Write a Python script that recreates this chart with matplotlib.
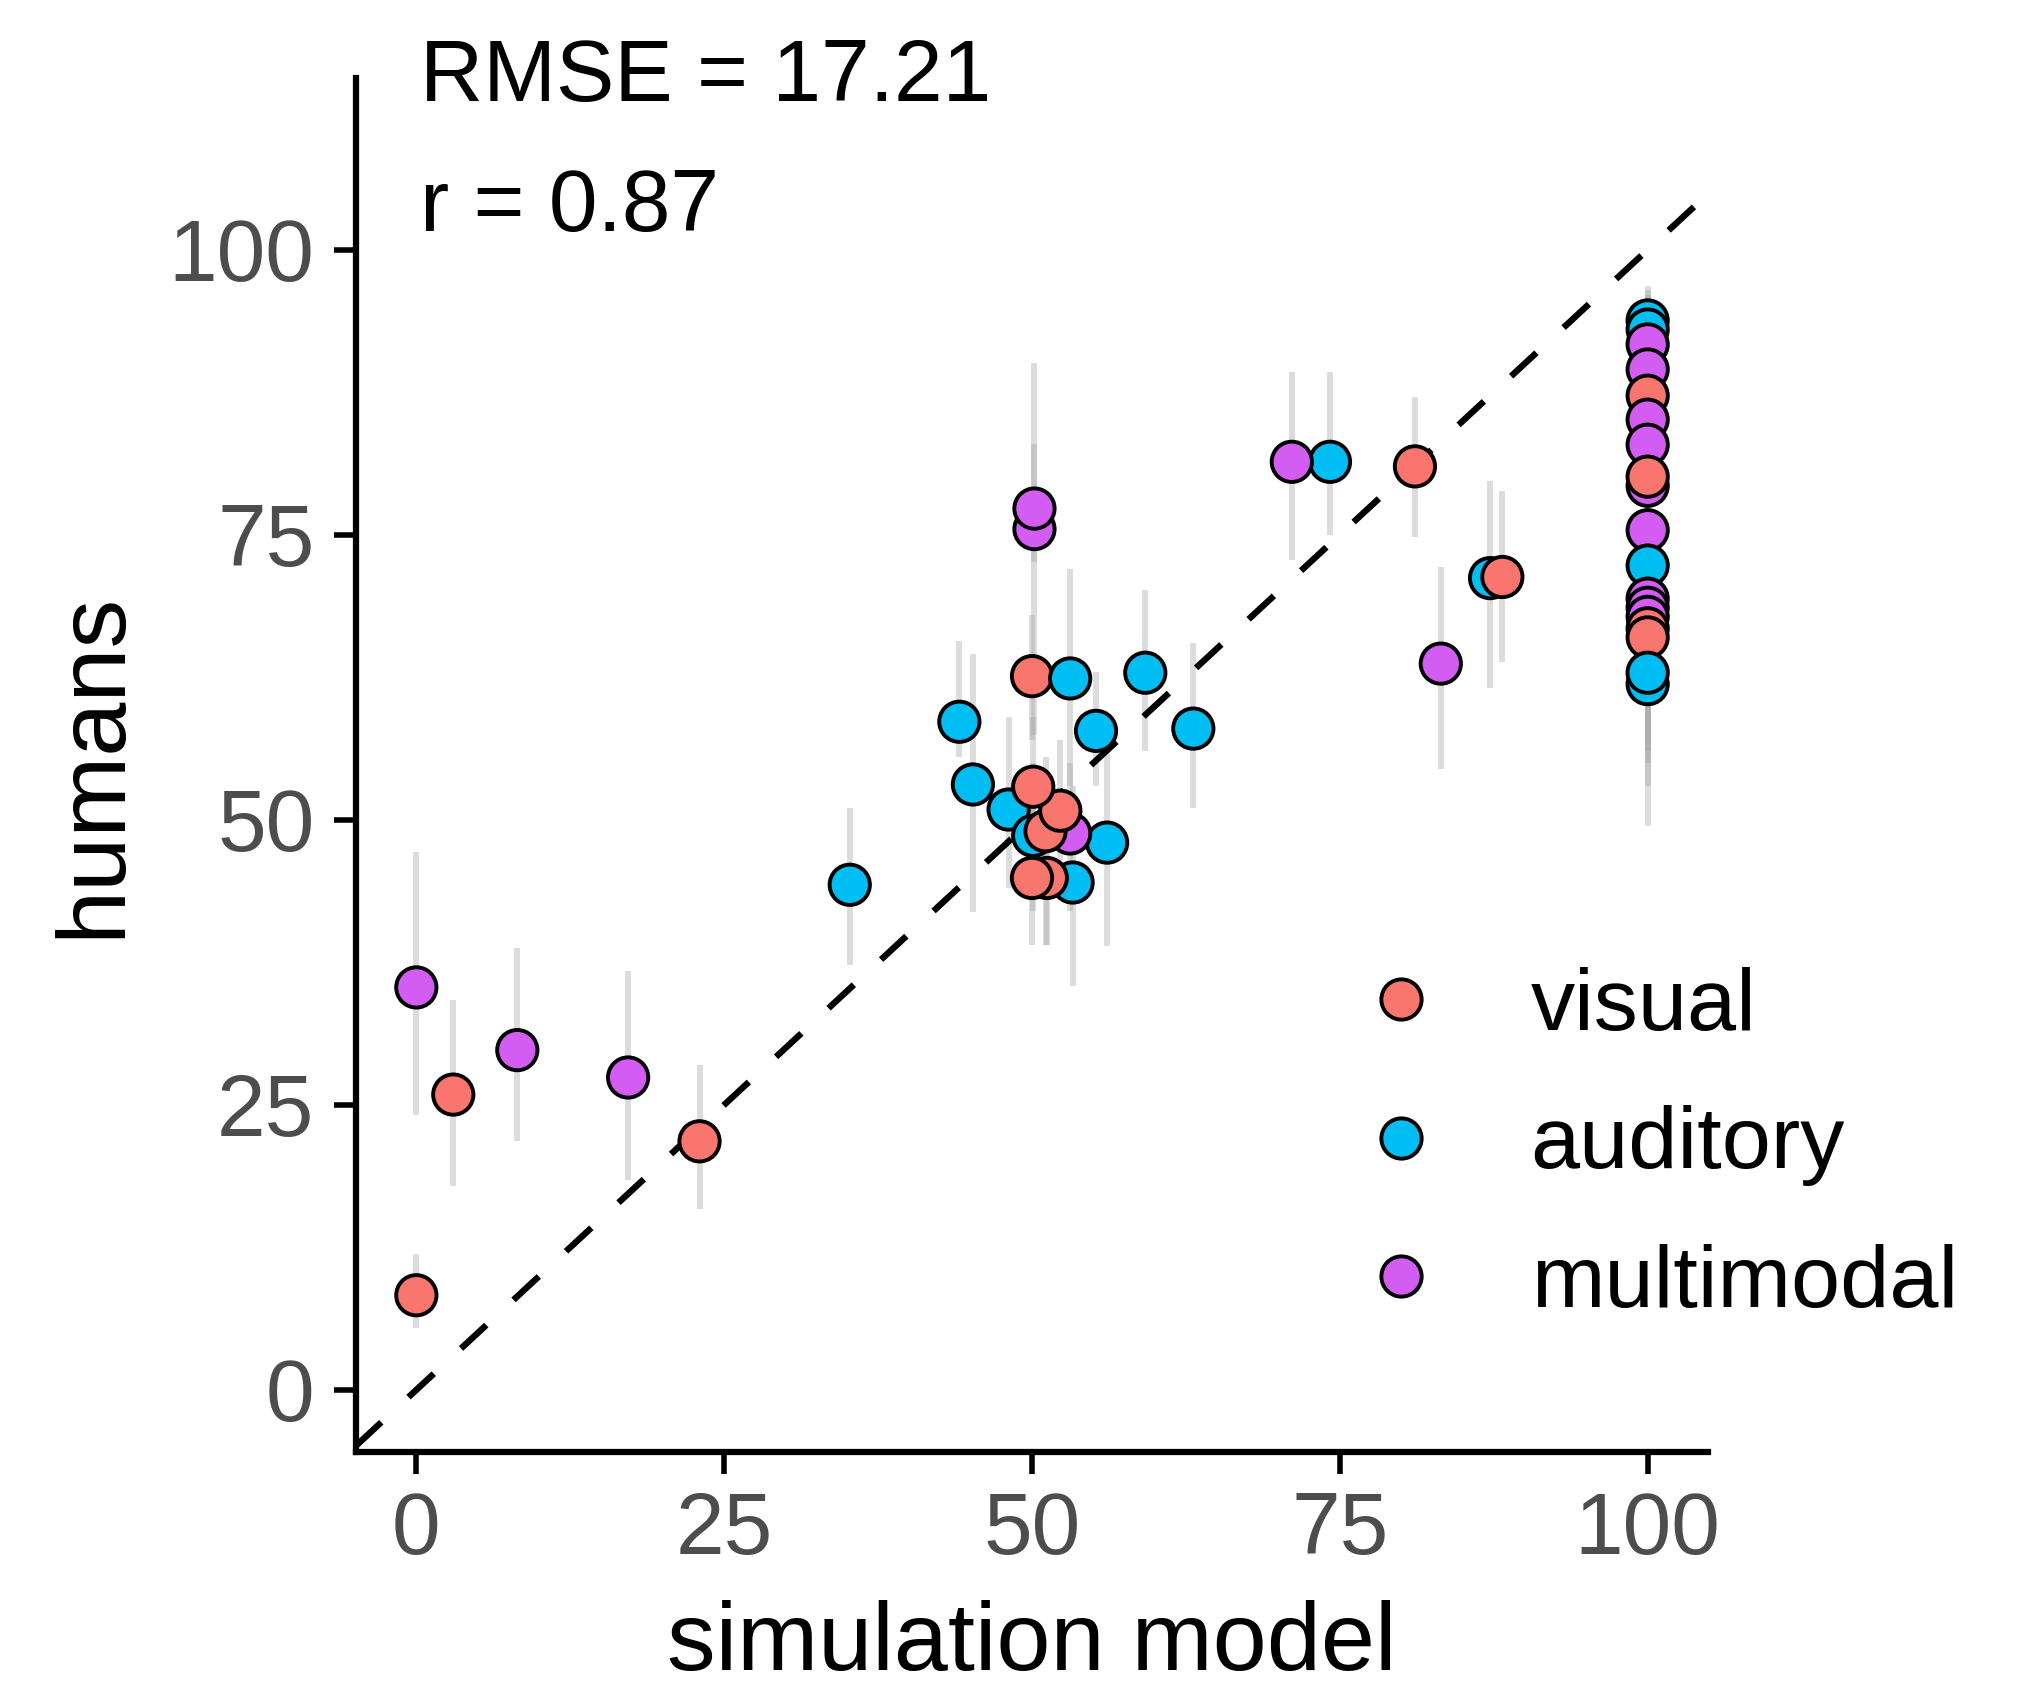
import matplotlib
import matplotlib.pyplot as plt
from matplotlib.lines import Line2D

matplotlib.use("Agg")
plt.rcParams["font.family"] = ["Liberation Sans", "DejaVu Sans"]

# condition colours
COLORS = {"visual": "#F8766D", "auditory": "#00BDF2", "multimodal": "#D35CF2"}
modality_names = ["visual", "auditory", "multimodal"]

# one entry per stimulus: modality, model prediction, human mean, CI low, CI high
modality = [
    "visual", "visual", "visual", "multimodal", "multimodal", "multimodal",
    "auditory", "auditory", "auditory", "auditory", "multimodal", "multimodal",
    "visual", "auditory", "auditory", "auditory", "auditory", "auditory",
    "visual", "visual", "auditory", "auditory", "multimodal", "visual",
    "auditory", "auditory", "visual", "visual",
    "multimodal", "auditory", "visual", "multimodal", "visual",
    "auditory", "auditory", "multimodal", "multimodal",
]
sim_model = [
    0, 3, 23, 0, 8.2, 17.2,
    35.2, 44.1, 45.2, 48.1, 50.2, 50.2,
    50.0, 53.1, 55.2, 59.2, 63.1, 53.3,
    51.2, 50.0, 50.1, 56.1, 53.1, 51.1,
    74.2, 87.2, 52.3, 50.1,
    71.1, 100, 88.2, 83.2, 81.1,
    100, 100, 100, 100,
]
humans = [
    8.3, 25.9, 21.8, 35.3, 29.8, 27.4,
    44.3, 58.6, 53.1, 50.9, 75.5, 77.3,
    62.6, 62.4, 57.8, 62.9, 58.0, 44.5,
    44.9, 44.9, 48.6, 48.0, 48.8, 49.0,
    81.4, 71.2, 50.8, 52.9,
    81.4, 93.8, 71.3, 63.7, 81.0,
    93.0, 61.9, 91.7, 89.5,
]
ci_low = [
    5.4, 17.9, 15.9, 24.1, 21.8, 18.4,
    37.3, 55.5, 41.9, 44.0, 57.4, 72.6,
    57.0, 53.0, 53.0, 56.0, 51.0, 35.4,
    39.0, 39.0, 42.0, 38.9, 42.0, 39.0,
    75.0, 61.6, 45.0, 46.0,
    72.8, 90.0, 63.8, 54.5, 74.8,
    89.0, 49.5, 87.0, 85.0,
]
ci_high = [
    11.9, 34.2, 28.5, 47.2, 38.8, 36.7,
    51.0, 65.7, 64.5, 59.0, 83.0, 90.1,
    68.0, 72.0, 63.0, 70.2, 65.5, 53.0,
    52.0, 52.0, 55.0, 56.3, 55.0, 55.5,
    89.3, 79.7, 57.0, 59.0,
    89.3, 96.8, 78.8, 72.2, 87.1,
    96.5, 68.0, 96.0, 94.0,
]

# remaining points of the column at simulation model = 100
col100_modality = [
    "visual", "multimodal", "multimodal", "multimodal", "visual",
    "multimodal", "auditory", "multimodal", "multimodal", "multimodal",
    "visual", "visual", "auditory",
]
col100_humans = [87.2, 85.1, 82.9, 79.3, 80.1, 75.4, 72.3, 69.4, 68.6, 67.8, 66.8, 66.0, 62.9]
col100_low = [82.0, 80.0, 77.0, 74.0, 74.0, 70.0, 66.0, 63.0, 62.0, 61.0, 56.0, 55.0, 53.0]
col100_high = [92.0, 90.0, 88.0, 85.0, 86.0, 81.0, 78.0, 75.0, 74.0, 73.0, 73.0, 72.0, 69.0]

modality = modality + col100_modality
sim_model = sim_model + [100] * len(col100_humans)
humans = humans + col100_humans
ci_low = ci_low + col100_low
ci_high = ci_high + col100_high

rmse_text = "RMSE = 17.21"
r_text = "r = 0.87"

W, H = 2029, 1695
fig = plt.figure(figsize=(W / 100, H / 100), dpi=100)
ax = fig.add_axes([356 / W, 1 - 1452 / H, (1708 - 356) / W, (1452 - 77.6) / H])

ax.vlines(sim_model, ci_low, ci_high, colors="#A0A0A0", alpha=0.37, lw=4.2, zorder=1)
ax.axline((0, 0), slope=1, color="black", lw=4.6, ls=(0, (5.4, 5.8)), zorder=2)
ax.scatter(sim_model, humans, s=29 ** 2, c=[COLORS[m] for m in modality],
           edgecolors="black", linewidths=2.8, zorder=3)

ax.set_xlim(-4.9, 104.9)
ax.set_ylim(-5.45, 115.1)
ax.set_xticks([0, 25, 50, 75, 100])
ax.set_yticks([0, 25, 50, 75, 100])

for side in ["top", "right"]:
    ax.spines[side].set_visible(False)
for side in ["left", "bottom"]:
    ax.spines[side].set_linewidth(4.5)
ax.tick_params(axis="both", length=16, width=4, labelsize=63, labelcolor="#4D4D4D")
ax.tick_params(axis="x", pad=12)
ax.tick_params(axis="y", pad=14)

ax.set_xlabel("simulation model", fontsize=70, labelpad=20)
ax.set_ylabel("humans", fontsize=70, labelpad=21)

ax.text(0.3, 115.0, rmse_text, fontsize=63, ha="left", va="center", clip_on=False)
ax.text(0.3, 103.6, r_text, fontsize=63, ha="left", va="center", clip_on=False)

handles = [
    Line2D([], [], ls="none", marker="o", markersize=29, markerfacecolor=COLORS[m],
           markeredgecolor="black", markeredgewidth=2.8)
    for m in modality_names
]
ax.legend(handles, modality_names, loc="center left", bbox_to_anchor=(1357 / W, 1 - 1146 / H),
          bbox_transform=fig.transFigure, frameon=False, fontsize=63.5, borderpad=0,
          borderaxespad=0, handlelength=1.0, handletextpad=0.97, labelspacing=0.65)

fig.savefig("out.png", dpi=100)
